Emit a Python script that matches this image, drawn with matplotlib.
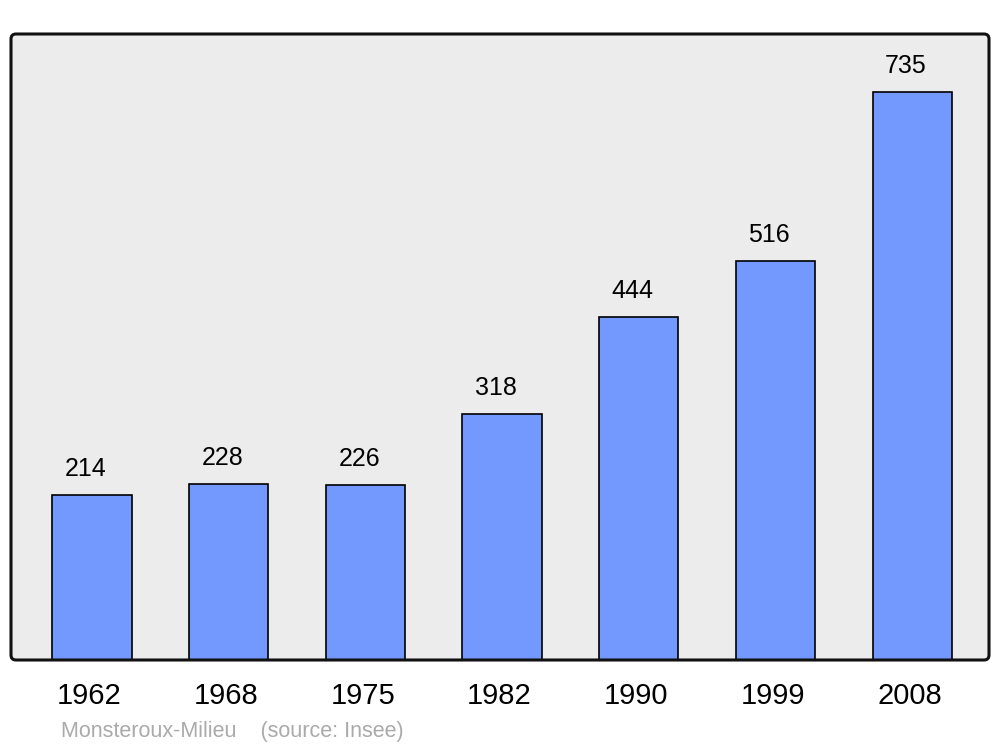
import matplotlib.pyplot as plt
import matplotlib.transforms as mtransforms
from matplotlib.patches import FancyBboxPatch

plt.rcParams['font.family'] = ['Liberation Sans', 'DejaVu Sans']

annees = ['1962', '1968', '1975', '1982', '1990', '1999', '2008']
population = [214, 228, 226, 318, 444, 516, 735]
commune = 'Monsteroux-Milieu'
source = '(source: Insee)'

fig = plt.figure(figsize=(10, 7.47), dpi=100)
ax = fig.add_axes([0.011, 0.1165, 0.978, 0.838])
ax.patch.set_visible(False)

# cadre arrondi (fond + bord)
fond = FancyBboxPatch((0.11, 0.87), 9.78, 6.26, boxstyle='round,pad=0,rounding_size=0.05',
                      transform=fig.dpi_scale_trans, facecolor='#ececec', edgecolor='none', zorder=-1)
bord = FancyBboxPatch((0.11, 0.87), 9.78, 6.26, boxstyle='round,pad=0,rounding_size=0.05',
                      transform=fig.dpi_scale_trans, facecolor='none', edgecolor='#111111',
                      linewidth=2.2, zorder=5)
fig.add_artist(fond)
fig.add_artist(bord)

x = range(len(annees))
ax.bar(x, population, width=0.58, color='#7399ff', edgecolor='black', linewidth=1.2, zorder=2)

for i, v in enumerate(population):
    ax.annotate(str(v), (i, v), xytext=(-4.5, 10), textcoords='offset points',
                ha='center', va='bottom', fontsize=18)

ax.set_xlim(-0.593, 6.562)
ax.set_ylim(0, 810)
ax.set_xticks(list(x))
ax.set_xticklabels(annees)
ax.tick_params(axis='x', length=0, pad=16, labelsize=21)
decal = mtransforms.ScaledTranslation(-2.5 / 100, 0, fig.dpi_scale_trans)
for lab in ax.get_xticklabels():
    lab.set_transform(lab.get_transform() + decal)
ax.set_yticks([])
for s in ax.spines.values():
    s.set_visible(False)

fig.text(0.061, 0.021, commune + '    ' + source, color='#aaaaaa', fontsize=15.5, va='center')

plt.savefig('out.png', dpi=100)
